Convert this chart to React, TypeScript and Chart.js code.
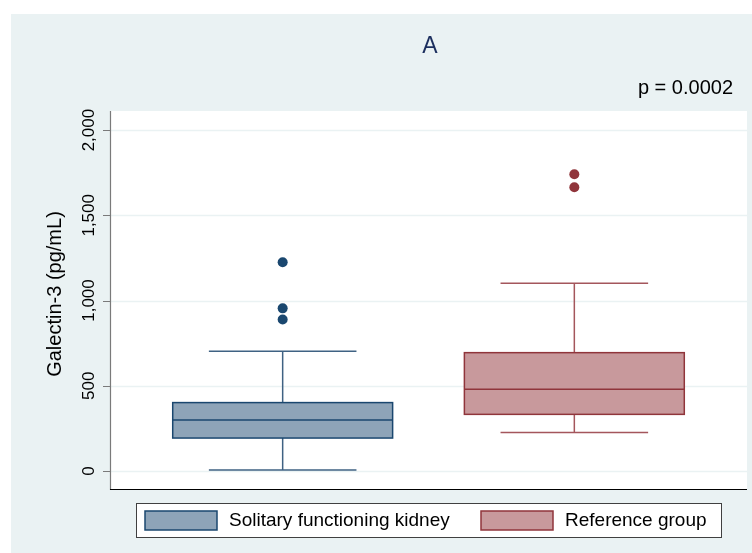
import React, { useEffect, useRef } from "react";
import { Chart, registerables } from "chart.js";

Chart.register(...registerables);

const categories = ["Solitary functioning kidney", "Reference group"];
const whiskerLow = [5, 225];
const q1 = [193, 332];
const median = [299, 479];
const q3 = [401, 694];
const whiskerHigh = [702, 1102];
const outliersSFK = [1225, 954, 889];
const outliersRef = [1741, 1665];
const yTicks = [0, 500, 1000, 1500, 2000];
const titleText = "A";
const noteText = "p = 0.0002";
const yTitle = "Galectin-3 (pg/mL)";

const fills = ["#8ea4b8", "#c8999c"];
const borders = ["#1a476f", "#90353b"];
const whiskerColors = ["#3f6283", "#a4565c"];

const FONT = '"Liberation Sans", Arial, Helvetica, sans-serif';

const fmt = (v: number) => v.toLocaleString("en-US");

const boxPlugin = {
  id: "boxPlugin",
  beforeDraw(chart: any) {
    const { ctx, width, height, chartArea } = chart;
    ctx.save();
    ctx.fillStyle = "#ffffff";
    ctx.fillRect(0, 0, width, height);
    ctx.fillStyle = "#eaf2f3";
    ctx.fillRect(11, 14, width - 11, height - 14);
    ctx.fillStyle = "#ffffff";
    ctx.fillRect(chartArea.left, chartArea.top, chartArea.right - chartArea.left, chartArea.bottom - chartArea.top);
    ctx.restore();
  },
  beforeDatasetsDraw(chart: any) {
    const { ctx, chartArea, scales } = chart;
    const y = scales.y;
    const x = scales.x;
    ctx.save();
    ctx.strokeStyle = "#eaf2f3";
    ctx.lineWidth = 1.5;
    yTicks.forEach((t) => {
      const py = Math.round(y.getPixelForValue(t)) + 0.5;
      ctx.beginPath();
      ctx.moveTo(chartArea.left, py);
      ctx.lineTo(chartArea.right, py);
      ctx.stroke();
    });
    const unit = x.getPixelForValue(1) - x.getPixelForValue(0);
    const halfBox = 0.377 * unit;
    const halfCap = 0.253 * unit;
    categories.forEach((_, i) => {
      const cx = x.getPixelForValue(i + 1);
      const yl = y.getPixelForValue(whiskerLow[i]);
      const y1 = y.getPixelForValue(q1[i]);
      const ym = y.getPixelForValue(median[i]);
      const y3 = y.getPixelForValue(q3[i]);
      const yh = y.getPixelForValue(whiskerHigh[i]);
      ctx.strokeStyle = whiskerColors[i];
      ctx.lineWidth = 1.5;
      ctx.beginPath();
      ctx.moveTo(cx, y3);
      ctx.lineTo(cx, yh);
      ctx.moveTo(cx - halfCap, yh);
      ctx.lineTo(cx + halfCap, yh);
      ctx.moveTo(cx, y1);
      ctx.lineTo(cx, yl);
      ctx.moveTo(cx - halfCap, yl);
      ctx.lineTo(cx + halfCap, yl);
      ctx.stroke();
      ctx.fillStyle = fills[i];
      ctx.fillRect(cx - halfBox, y3, halfBox * 2, y1 - y3);
      ctx.strokeStyle = borders[i];
      ctx.lineWidth = 1.5;
      ctx.strokeRect(cx - halfBox, y3, halfBox * 2, y1 - y3);
      ctx.beginPath();
      ctx.moveTo(cx - halfBox, ym);
      ctx.lineTo(cx + halfBox, ym);
      ctx.stroke();
    });
    ctx.restore();
  },
  afterDraw(chart: any) {
    const { ctx, chartArea, scales } = chart;
    const y = scales.y;
    ctx.save();
    ctx.strokeStyle = "#7a7a7a";
    ctx.lineWidth = 1.2;
    ctx.beginPath();
    ctx.moveTo(chartArea.left + 0.5, chartArea.top);
    ctx.lineTo(chartArea.left + 0.5, chartArea.bottom + 1);
    yTicks.forEach((t) => {
      const py = Math.round(y.getPixelForValue(t)) + 0.5;
      ctx.moveTo(chartArea.left - 7, py);
      ctx.lineTo(chartArea.left, py);
    });
    ctx.stroke();
    ctx.strokeStyle = "#000000";
    ctx.lineWidth = 1.2;
    ctx.beginPath();
    ctx.moveTo(chartArea.left, chartArea.bottom + 0.5);
    ctx.lineTo(chartArea.right, chartArea.bottom + 0.5);
    ctx.stroke();
    ctx.fillStyle = "#000000";
    ctx.font = `17px ${FONT}`;
    ctx.textAlign = "center";
    ctx.textBaseline = "middle";
    yTicks.forEach((t) => {
      const py = y.getPixelForValue(t);
      ctx.save();
      ctx.translate(89, py);
      ctx.rotate(-Math.PI / 2);
      ctx.fillText(fmt(t), 0, 0);
      ctx.restore();
    });
    ctx.save();
    ctx.font = `20px ${FONT}`;
    ctx.translate(55, 294);
    ctx.rotate(-Math.PI / 2);
    ctx.fillText(yTitle, 0, 0);
    ctx.restore();
    ctx.fillStyle = "#1c2f5e";
    ctx.font = `23px ${FONT}`;
    ctx.textAlign = "center";
    ctx.fillText(titleText, 430, 47);
    ctx.fillStyle = "#000000";
    ctx.font = `20px ${FONT}`;
    ctx.textAlign = "right";
    ctx.fillText(noteText, 733, 88);
    ctx.fillStyle = "#ffffff";
    ctx.fillRect(136, 503, 586, 35);
    ctx.strokeStyle = "#404040";
    ctx.lineWidth = 1;
    ctx.strokeRect(136.5, 503.5, 585, 34);
    const swX = [145, 481];
    const txX = [229, 565];
    ctx.font = `19px ${FONT}`;
    ctx.textAlign = "left";
    categories.forEach((c, i) => {
      ctx.fillStyle = fills[i];
      ctx.fillRect(swX[i], 511, 72, 19);
      ctx.strokeStyle = borders[i];
      ctx.lineWidth = 1.5;
      ctx.strokeRect(swX[i], 511, 72, 19);
      ctx.fillStyle = "#000000";
      ctx.fillText(c, txX[i], 521);
    });
    ctx.restore();
  },
};

export default function App() {
  const ref = useRef<HTMLCanvasElement>(null);
  useEffect(() => {
    if (!ref.current) return;
    const chart = new Chart(ref.current, {
      type: "scatter",
      data: {
        datasets: [
          {
            label: categories[0],
            data: outliersSFK.map((v) => ({ x: 1, y: v })),
            backgroundColor: borders[0],
            borderWidth: 0,
            pointRadius: 5,
          },
          {
            label: categories[1],
            data: outliersRef.map((v) => ({ x: 2, y: v })),
            backgroundColor: borders[1],
            borderWidth: 0,
            pointRadius: 5,
          },
        ],
      },
      options: {
        animation: false,
        responsive: false,
        layout: { padding: { left: 110, top: 111, right: 4, bottom: 64 } },
        scales: {
          x: { type: "linear", min: 0.408, max: 2.592, display: false },
          y: { type: "linear", min: -106, max: 2112, display: false },
        },
        plugins: {
          legend: { display: false },
          tooltip: { enabled: false },
          title: { display: false },
        },
      },
      plugins: [boxPlugin],
    });
    return () => chart.destroy();
  }, []);
  return (
    <div style={{ position: "absolute", left: 0, top: 0, width: 752, height: 553 }}>
      <canvas ref={ref} width={752} height={553} style={{ width: 752, height: 553 }} />
    </div>
  );
}
